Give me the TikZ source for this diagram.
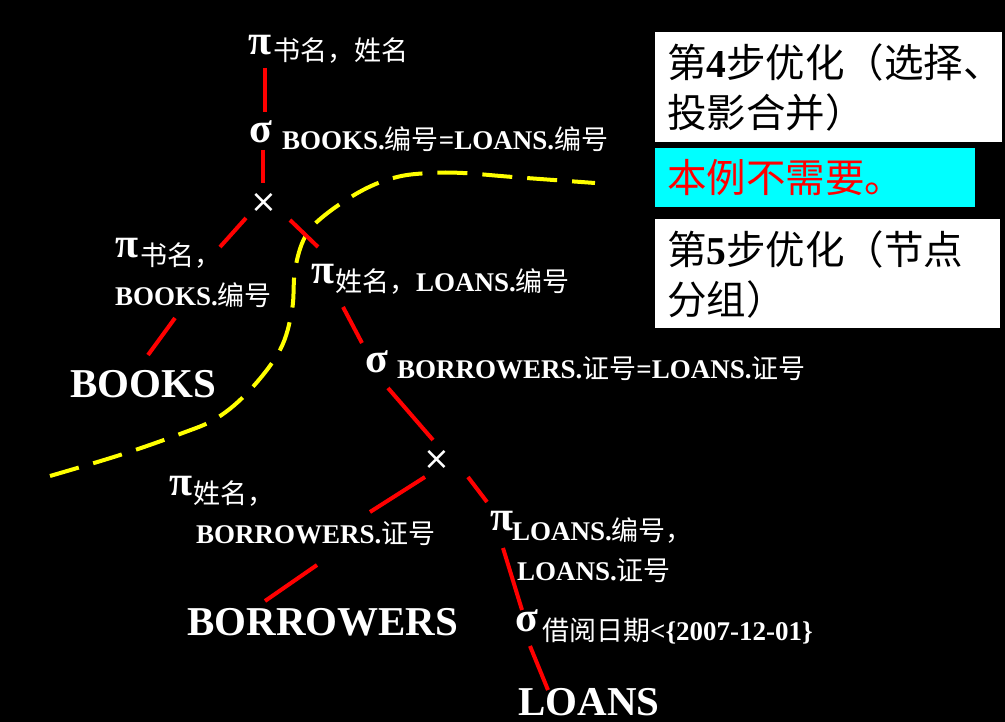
\documentclass[tikz,border=0pt]{standalone}
\usepackage{fontspec}
\setmainfont{Liberation Serif}
\newfontfamily\zhfont{Noto Sans CJK SC}
\newfontfamily\symfont{DejaVu Sans}
\newcommand\Z[1]{{\zhfont\mdseries #1}}
\usetikzlibrary{calc}
\definecolor{aqua}{RGB}{0,255,255}
\definecolor{pured}{RGB}{255,0,0}
\definecolor{pureyellow}{RGB}{255,255,0}
\begin{document}
\begin{tikzpicture}[x=1pt,y=-1pt,
  edge/.style={draw=pured,line width=4pt},
  sym/.style={text=white,inner sep=0pt,anchor=center,font=\bfseries\fontsize{42}{46}\selectfont},
  crossop/.style={text=white,inner sep=0pt,anchor=center,font=\symfont\fontsize{32}{36}\selectfont},
  lab/.style={text=white,inner sep=0pt,anchor=base west,font=\bfseries\fontsize{27}{32}\selectfont},
  big/.style={text=white,inner sep=0pt,anchor=base west,font=\bfseries\fontsize{41}{48}\selectfont},
  box/.style={inner sep=0pt,anchor=north west,draw=none},
  boxtxt/.style={inner sep=0pt,anchor=base west,font=\bfseries\fontsize{39.5}{46}\selectfont}]
\useasboundingbox (0,0) rectangle (1005,722);
\fill[black] (0,0) rectangle (1005,722);

% yellow dashed separator
\draw[pureyellow,line width=4pt,dash pattern=on 30pt off 15pt]
  plot[smooth,tension=0.6] coordinates {(50,476) (120,455) (180,434) (217,418) (250,390) (280,350) (292,310) (295,270) (305,237) (325,215) (363,190) (397,177) (430,173) (463,173) (513,177) (595,183)};

% upper tree
\node[sym] (p1) at (260,45) {π};
\node[lab] (t1) at (273,61) {\Z{书名，姓名}};
\node[sym] (s1) at (261,132) {σ};
\node[lab] (t2) at (282,150) {BOOKS.\Z{编号}=LOANS.\Z{编号}};
\node[crossop] (x1) at (264,203) {×};
\node[sym] (p2) at (127,248) {π};
\node[lab] (t3a) at (140,266) {\Z{书名，}};
\node[lab] (t3b) at (115,306) {BOOKS.\Z{编号}};
\node[big] (books) at (70,397) {BOOKS};
\node[sym] (p3) at (323,274) {π};
\node[lab] (t4) at (335,292) {\Z{姓名，}LOANS.\Z{编号}};
\node[sym] (s2) at (377,362) {σ};
\node[lab] (t5) at (397,378) {BORROWERS.\Z{证号}=LOANS.\Z{证号}};
\node[crossop] (x2) at (437,460) {×};
\node[sym] (p4) at (181,486) {π};
\node[lab] (t6a) at (193,503) {\Z{姓名，}};
\node[lab] (t6b) at (196,543) {BORROWERS.\Z{证号}};
\node[big] (borrowers) at (187,635) {BORROWERS};
\node[sym] (p5) at (502,521) {π};
\node[lab] (t7a) at (512,540) {LOANS.\Z{编号，}};
\node[lab] (t7b) at (517,580) {LOANS.\Z{证号}};
\node[sym] (s3) at (527,621) {σ};
\node[lab] (t8) at (542,640) {\Z{借阅日期}<\{2007-12-01\}};
\node[big] (loans) at (518,715) {LOANS};

% connectors
\draw[edge] ($(p1)+(5,23)$) -- ($(s1)+(4,-20)$);
\draw[edge] ($(s1)+(2,18)$) -- ($(x1)+(-1,-20)$);
\draw[edge] ($(x1)+(-18,15)$) -- ($(p2)+(93,-1)$);
\draw[edge] ($(x1)+(26,17)$) -- ($(p3)+(-5,-27)$);
\draw[edge] ($(t3b.base west)+(60,12)$) -- ($(books.base west)+(78,-42)$);
\draw[edge] ($(p3)+(20,33)$) -- ($(s2)+(-15,-19)$);
\draw[edge] ($(s2)+(11,26)$) -- ($(x2)+(-4,-20)$);
\draw[edge] ($(x2)+(-12,17)$) -- ($(t6b.base west)+(174,-31)$);
\draw[edge] ($(x2)+(31,17)$) -- ($(p5)+(-15,-19)$);
\draw[edge] ($(t6b.base west)+(121,22)$) -- ($(borrowers.base west)+(78,-34)$);
\draw[edge] ($(p5)+(1,27)$) -- ($(s3)+(-5,-11)$);
\draw[edge] ($(s3)+(3,25)$) -- ($(loans.base west)+(30,-25)$);

% right-hand boxes
\node[box,fill=white,minimum width=347pt,minimum height=110pt] (b1) at (655,32) {};
\node[boxtxt,text=black] (b1a) at (667,78) {\Z{第}4\Z{步优化（选择、}};
\node[boxtxt,text=black] (b1b) at (667,128) {\Z{投影合并）}};
\node[box,fill=aqua,minimum width=320pt,minimum height=59pt] (b2) at (655,148) {};
\node[boxtxt,text=pured] (b2a) at (667,193) {\Z{本例不需要。}};
\node[box,fill=white,minimum width=345pt,minimum height=109pt] (b3) at (655,219) {};
\node[boxtxt,text=black] (b3a) at (667,265) {\Z{第}5\Z{步优化（节点}};
\node[boxtxt,text=black] (b3b) at (667,315) {\Z{分组）}};
\end{tikzpicture}
\end{document}
